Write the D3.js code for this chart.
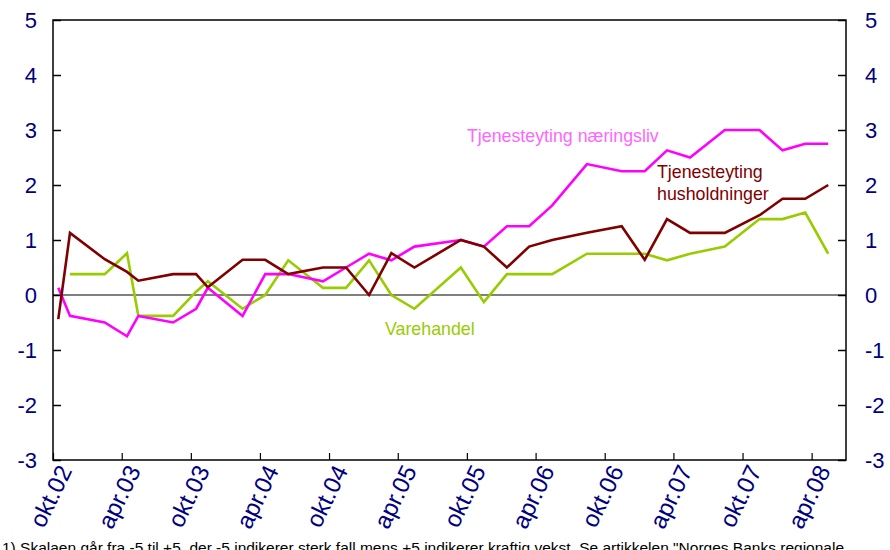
<!DOCTYPE html>
<meta charset="utf-8" />
<script src="https://d3js.org/d3.v7.min.js"></script>
<style>
  body { margin: 0; background: #fff; }
  text { font-family: "Liberation Sans", Arial, sans-serif; }
</style>
<body>
<div id="chart"></div>
<script>
  // survey dates (mid month)
  var dates = [
    "2002-10-15", "2002-11-15", "2003-02-15", "2003-04-15", "2003-05-15",
    "2003-08-15", "2003-10-15", "2003-11-15", "2004-02-15", "2004-04-15",
    "2004-06-15", "2004-09-15", "2004-11-15", "2005-01-15", "2005-03-15",
    "2005-05-15", "2005-09-15", "2005-11-15", "2006-01-15", "2006-03-15",
    "2006-05-15", "2006-08-15", "2006-11-15", "2007-01-15", "2007-03-15",
    "2007-05-15", "2007-08-15", "2007-11-15", "2008-01-15", "2008-03-15",
    "2008-05-15"
  ];

  var naeringsliv = [
    0.13, -0.38, -0.5, -0.75, -0.38, -0.5, -0.25, 0.13, -0.38, 0.38,
    0.38, 0.25, 0.5, 0.75, 0.63, 0.88, 1.0, 0.88, 1.25, 1.25,
    1.63, 2.38, 2.25, 2.25, 2.63, 2.5, 3.0, 3.0, 2.63, 2.75, 2.75
  ];

  var husholdninger = [
    -0.44, 1.13, 0.65, 0.42, 0.26, 0.38, 0.38, 0.14, 0.64, 0.64,
    0.38, 0.5, 0.5, 0.0, 0.76, 0.5, 1.0, 0.88, 0.5, 0.88,
    1.0, 1.13, 1.25, 0.64, 1.38, 1.13, 1.13, 1.45, 1.75, 1.75, 2.0
  ];

  var varehandel = [
    null, 0.38, 0.38, 0.76, -0.38, -0.38, 0.06, 0.25, -0.25, 0.0,
    0.63, 0.13, 0.13, 0.63, 0.0, -0.25, 0.5, -0.13, 0.38, 0.38,
    0.38, 0.75, 0.75, 0.75, 0.63, 0.75, 0.88, 1.38, 1.38, 1.5, 0.75
  ];

  var tickDates = [
    "2002-10-01", "2003-04-01", "2003-10-01", "2004-04-01", "2004-10-01",
    "2005-04-01", "2005-10-01", "2006-04-01", "2006-10-01", "2007-04-01",
    "2007-10-01", "2008-04-01"
  ];
  var tickLabels = [
    "okt.02", "apr.03", "okt.03", "apr.04", "okt.04", "apr.05",
    "okt.05", "apr.06", "okt.06", "apr.07", "okt.07", "apr.08"
  ];

  var yTicks = [-3, -2, -1, 0, 1, 2, 3, 4, 5];

  var width = 890, height = 550;
  var margin = { top: 20, right: 44, bottom: 90, left: 53 };
  var parse = d3.timeParse("%Y-%m-%d");

  var svg = d3.select("#chart").append("svg")
    .attr("width", width)
    .attr("height", height);

  var x = d3.scaleTime()
    .domain([new Date(2002, 9, 1), new Date(2008, 6, 1)])
    .range([margin.left, width - margin.right]);

  var y = d3.scaleLinear()
    .domain([-3, 5])
    .range([height - margin.bottom, margin.top]);

  var navy = "#000080";

  // zero line
  svg.append("line")
    .attr("x1", x.range()[0]).attr("x2", x.range()[1])
    .attr("y1", y(0)).attr("y2", y(0))
    .attr("stroke", "#808080")
    .attr("stroke-width", 2);

  // left axis, ticks inward
  var left = svg.append("g")
    .attr("transform", "translate(" + x.range()[0] + ",0)")
    .call(d3.axisRight(y).tickValues(yTicks).tickSize(8).tickFormat(""));
  left.select(".domain").remove();
  left.selectAll("line").attr("stroke", "#000").attr("stroke-width", 1.5);

  var right = svg.append("g")
    .attr("transform", "translate(" + x.range()[1] + ",0)")
    .call(d3.axisLeft(y).tickValues(yTicks).tickSize(8).tickFormat(""));
  right.select(".domain").remove();
  right.selectAll("line").attr("stroke", "#000").attr("stroke-width", 1.5);

  // y labels
  svg.append("g").selectAll("text")
    .data(yTicks).join("text")
    .attr("x", 37)
    .attr("y", function(d) { return y(d) + 8; })
    .attr("text-anchor", "end")
    .attr("fill", navy)
    .style("font-size", "22px")
    .text(function(d) { return d; });

  svg.append("g").selectAll("text")
    .data(yTicks).join("text")
    .attr("x", 865)
    .attr("y", function(d) { return y(d) + 8; })
    .attr("text-anchor", "start")
    .attr("fill", navy)
    .style("font-size", "22px")
    .text(function(d) { return d; });

  // x axis ticks upward
  var xa = svg.append("g")
    .attr("transform", "translate(0," + y(-3) + ")")
    .call(d3.axisTop(x).tickValues(tickDates.map(parse)).tickSize(7).tickFormat(""));
  xa.select(".domain").remove();
  xa.selectAll("line").attr("stroke", "#000").attr("stroke-width", 1.2);

  // x labels, rotated
  svg.append("g").selectAll("text")
    .data(tickDates).join("text")
    .attr("transform", function(d) {
      return "translate(" + (x(parse(d)) + 4) + "," + (y(-3) + 3) + ") rotate(-64)";
    })
    .attr("text-anchor", "end")
    .attr("dy", "0.72em")
    .attr("fill", navy)
    .style("font-size", "24px")
    .text(function(d, i) { return tickLabels[i]; });

  // frame
  svg.append("rect")
    .attr("x", x.range()[0]).attr("y", y(5))
    .attr("width", x.range()[1] - x.range()[0])
    .attr("height", y(-3) - y(5))
    .attr("fill", "none")
    .attr("stroke", "#000")
    .attr("stroke-width", 1.5);

  // lines
  var line = d3.line()
    .defined(function(d) { return d.v !== null; })
    .x(function(d) { return x(d.date); })
    .y(function(d) { return y(d.v); });

  function series(vals) {
    return vals.map(function(v, i) { return { date: parse(dates[i]), v: v }; });
  }

  var lines = [
    { vals: varehandel, color: "#99cc00" },
    { vals: naeringsliv, color: "#ff00ff" },
    { vals: husholdninger, color: "#800000" }
  ];

  lines.forEach(function(s) {
    svg.append("path")
      .datum(series(s.vals))
      .attr("d", line)
      .attr("fill", "none")
      .attr("stroke", s.color)
      .attr("stroke-width", 2.6)
      .attr("stroke-linejoin", "miter");
  });

  // series labels
  svg.append("text")
    .attr("x", 467).attr("y", 142)
    .attr("fill", "#ff66ff")
    .style("font-size", "17.8px")
    .text("Tjenesteyting næringsliv");

  svg.append("text")
    .attr("x", 657).attr("y", 178)
    .attr("fill", "#800000")
    .style("font-size", "17.8px")
    .text("Tjenesteyting");
  svg.append("text")
    .attr("x", 657).attr("y", 200)
    .attr("fill", "#800000")
    .style("font-size", "17.8px")
    .text("husholdninger");

  svg.append("text")
    .attr("x", 385).attr("y", 335)
    .attr("fill", "#99cc00")
    .style("font-size", "17.8px")
    .text("Varehandel");

  // footnote, cut at bottom edge as in the source
  svg.append("text")
    .attr("x", 2).attr("y", 553)
    .attr("fill", "#000")
    .style("font-size", "15.5px")
    .text("1)  Skalaen går fra -5 til +5, der -5 indikerer sterk fall mens +5 indikerer kraftig vekst. Se artikkelen \"Norges Banks regionale");
</script>
</body>
